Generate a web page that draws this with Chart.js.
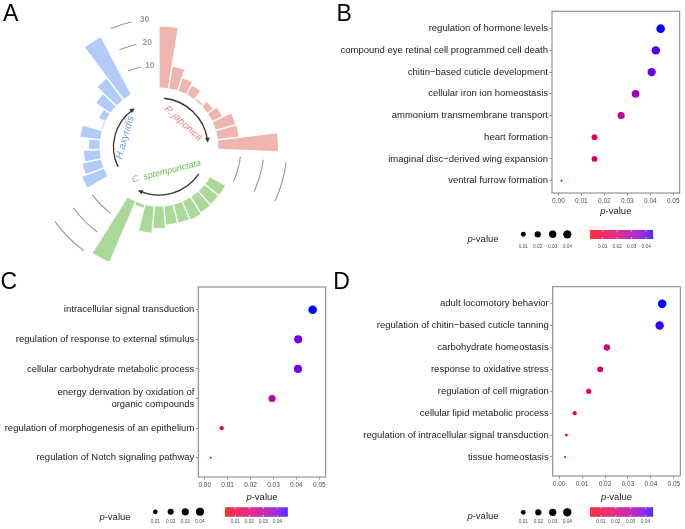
<!DOCTYPE html>
<html><head><meta charset="utf-8">
<script src="https://cdn.jsdelivr.net/npm/chart.js@4"></script>
<style>
html,body{margin:0;padding:0;background:#fff;}
body{width:685px;height:529px;position:relative;overflow:hidden;font-family:'Liberation Sans',Arial,sans-serif;}
canvas{position:absolute;}
.lab{position:absolute;font-size:23px;line-height:23px;color:#000;}
</style></head><body>
<canvas id="cA" width="318" height="294" style="left:0;top:0"></canvas>
<canvas id="cB" width="355" height="260" style="left:330px;top:0"></canvas>
<canvas id="cC" width="330" height="259" style="left:0;top:270px"></canvas>
<canvas id="cD" width="355" height="259" style="left:330px;top:270px"></canvas>
<div class="lab" style="left:3px;top:2px">A</div>
<div class="lab" style="left:336.6px;top:2px">B</div>
<div class="lab" style="left:0.5px;top:270.3px">C</div>
<div class="lab" style="left:333.2px;top:269.7px">D</div>
<script>
const FAM = "'Liberation Sans', Arial, Helvetica, sans-serif";
Chart.defaults.font.family = FAM;

// ---------------- data ----------------
const groupNames = ['P. japonica', 'C. sptempunctata', 'H.axyridis'];
const countsPjaponica = [27, 10, 6.2, 4.8, 1.2, 3.2, 5, 9.2, 9.5, 26.3];
const countsCseptem   = [8, 8, 8.3, 9, 8.6, 8.4, 9.8, 12, 1.8, 29];
const countsHaxyridis = [10.4, 8.6, 7.3, 5.1, 9, 0.8, 3.5, 8, 12, 28.6];
const emptyBarsPerGap = 3;
const radialGrid = [10, 20, 30];

const termsB = ['regulation of hormone levels','compound eye retinal cell programmed cell death','chitin\u2212based cuticle development','cellular iron ion homeostasis','ammonium transmembrane transport','heart formation','imaginal disc\u2212derived wing expansion','ventral furrow formation'];
const pvalB  = [0.0445, 0.0424, 0.0406, 0.0336, 0.0273, 0.0157, 0.0157, 0.0013];
const termsC = ['intracellular signal transduction','regulation of response to external stimulus','cellular carbohydrate metabolic process',['energy derivation by oxidation of','organic compounds'],'regulation of morphogenesis of an epithelium','regulation of Notch signaling pathway'];
const pvalC  = [0.0471, 0.0408, 0.0407, 0.0294, 0.0074, 0.0026];
const termsD = ['adult locomotory behavior','regulation of chitin\u2212based cuticle tanning','carbohydrate homeostasis','response to oxidative stress','regulation of cell migration','cellular lipid metabolic process','regulation of intracellular signal transduction','tissue homeostasis'];
const pvalD  = [0.0449, 0.0438, 0.0208, 0.0179, 0.0129, 0.0068, 0.0032, 0.0026];
const xTickValues  = [0, 0.01, 0.02, 0.03, 0.04, 0.05];
const legendValues = [0.01, 0.02, 0.03, 0.04];

// ---------------- colour helpers (Lab interpolation red -> blue) ----------------
function s2l(c){c/=255;return c<=0.04045?c/12.92:Math.pow((c+0.055)/1.055,2.4);}
function l2s(c){c=c<=0.0031308?12.92*c:1.055*Math.pow(c,1/2.4)-0.055;return Math.round(Math.max(0,Math.min(1,c))*255);}
function rgb2lab(rgb){const r=s2l(rgb[0]),g=s2l(rgb[1]),b=s2l(rgb[2]);
  const x=(r*0.4124+g*0.3576+b*0.1805)/0.95047,y=r*0.2126+g*0.7152+b*0.0722,z=(r*0.0193+g*0.1192+b*0.9505)/1.08883;
  const f=t=>t>0.008856?Math.cbrt(t):7.787*t+16/116;const fx=f(x),fy=f(y),fz=f(z);
  return [116*fy-16,500*(fx-fy),200*(fy-fz)];}
function lab2rgb(L,a,b){const fy=(L+16)/116,fx=fy+a/500,fz=fy-b/200;
  const fi=t=>t*t*t>0.008856?t*t*t:(t-16/116)/7.787;
  const x=fi(fx)*0.95047,y=fi(fy),z=fi(fz)*1.08883;
  return [l2s(x*3.2406-y*1.5372-z*0.4986),l2s(-x*0.9689+y*1.8758+z*0.0415),l2s(x*0.0557-y*0.2040+z*1.0570)];}
const LAB_LO=rgb2lab([255,0,0]), LAB_HI=rgb2lab([0,0,255]);
function mixColor(t){t=Math.max(0,Math.min(1,t));const c=lab2rgb(LAB_LO[0]+(LAB_HI[0]-LAB_LO[0])*t,LAB_LO[1]+(LAB_HI[1]-LAB_LO[1])*t,LAB_LO[2]+(LAB_HI[2]-LAB_LO[2])*t);return `rgb(${c[0]},${c[1]},${c[2]})`;}

// ---------------- Panel A : circular bar plot ----------------
const groupColors = ['#EFB6AF', '#ABDA98', '#B2CBF9'];
const slotValues = [], slotColors = [];
[countsPjaponica, countsCseptem, countsHaxyridis].forEach((g, gi) => {
  g.forEach(v => { slotValues.push(v); slotColors.push(groupColors[gi]); });
  for (let k = 0; k < emptyBarsPerGap; k++) { slotValues.push(null); slotColors.push('rgba(0,0,0,0)'); }
});
const nSlots = slotValues.length;

function arrowArc(ctx, cx, cy, r, d0, d1) {
  const a0 = (d0 - 90) * Math.PI / 180, a1 = (d1 - 90) * Math.PI / 180;
  ctx.strokeStyle = '#333'; ctx.fillStyle = '#333'; ctx.lineWidth = 1.3;
  ctx.beginPath(); ctx.arc(cx, cy, r, a0, a1 - 0.05); ctx.stroke();
  const hx = cx + r * Math.cos(a1), hy = cy + r * Math.sin(a1);
  const tx = -Math.sin(a1), ty = Math.cos(a1);
  const L = 5, W = 2.4, bx = hx - tx * L, by = hy - ty * L, nx = -ty, ny = tx;
  ctx.beginPath(); ctx.moveTo(hx, hy); ctx.lineTo(bx + nx * W, by + ny * W); ctx.lineTo(bx - nx * W, by - ny * W); ctx.closePath(); ctx.fill();
}
function rotText(ctx, cx, cy, txt, r, thetaDeg, rotDeg, color, size) {
  const th = thetaDeg * Math.PI / 180;
  ctx.save();
  ctx.translate(cx + r * Math.sin(th), cy - r * Math.cos(th));
  ctx.rotate(rotDeg * Math.PI / 180);
  ctx.font = `italic ${size}px ${FAM}`; ctx.fillStyle = color; ctx.textAlign = 'center'; ctx.textBaseline = 'middle';
  ctx.fillText(txt, 0, 0);
  ctx.restore();
}
const polarDeco = {
  id: 'polarDeco',
  afterDatasetsDraw(chart) {
    const s = chart.scales.r, ctx = chart.ctx, cx = s.xCenter, cy = s.yCenter;
    const R = v => s.getDistanceFromCenterForValue(v);
    const slotDeg = 360 / nSlots, rad = d => (d - 90) * Math.PI / 180;
    ctx.save();
    ctx.fillStyle = '#fff'; ctx.beginPath(); ctx.arc(cx, cy, R(0) + 0.4, 0, 2 * Math.PI); ctx.fill();
    ctx.strokeStyle = '#9a9a9a'; ctx.lineWidth = 1.1;
    const gapSpans = [[10.5, 12.45], [23.4, 25.4], [36.6, 37.65]];
    radialGrid.forEach(v => gapSpans.forEach(([a, b]) => {
      ctx.beginPath(); ctx.arc(cx, cy, R(v), rad(a * slotDeg), rad(b * slotDeg)); ctx.stroke();
    }));
    ctx.fillStyle = '#9e9e9e'; ctx.font = `bold 8.5px ${FAM}`; ctx.textAlign = 'center'; ctx.textBaseline = 'middle';
    const la = rad(38.3 * slotDeg);
    radialGrid.forEach(v => ctx.fillText(String(v), cx + R(v) * Math.cos(la), cy + R(v) * Math.sin(la)));
    arrowArc(ctx, cx, cy, 49, 6, 85);
    arrowArc(ctx, cx, cy, 48, 124, 206);
    arrowArc(ctx, cx, cy, 45.5, 244, 328);
    rotText(ctx, cx, cy, groupNames[0], 34, 45.7, 42, '#E8867B', 9.8);
    rotText(ctx, cx, cy, groupNames[1], 25.6, 163, -14, '#62BE50', 9);
    rotText(ctx, cx, cy, groupNames[2], 35.3, 285.6, -74.4, '#76A0F3', 10.2);
    ctx.restore();
  }
};
new Chart(document.getElementById('cA'), {
  type: 'polarArea',
  data: { labels: slotValues.map((_, i) => String(i)),
    datasets: [{ data: slotValues, backgroundColor: slotColors, borderColor: '#ffffff', borderWidth: 1.3, angle: 360 / nSlots }] },
  options: {
    responsive: false, animation: false, events: [],
    plugins: { legend: { display: false }, tooltip: { enabled: false } },
    scales: { r: { min: -25.65, max: 38.26, startAngle: 0,
      ticks: { display: false }, grid: { display: false }, angleLines: { display: false }, pointLabels: { display: false } } }
  },
  plugins: [polarDeco]
});

// ---------------- Panels B, C, D : bubble plots ----------------
function drawPTitle(ctx, cx, cy, size, color) {
  ctx.save(); ctx.fillStyle = color; ctx.textBaseline = 'middle'; ctx.textAlign = 'left';
  ctx.font = `italic ${size}px ${FAM}`; const w1 = ctx.measureText('p').width;
  ctx.font = `${size}px ${FAM}`; const w2 = ctx.measureText('-value').width;
  const x0 = cx - (w1 + w2) / 2;
  ctx.font = `italic ${size}px ${FAM}`; ctx.fillText('p', x0, cy);
  ctx.font = `${size}px ${FAM}`; ctx.fillText('-value', x0 + w1, cy);
  ctx.restore();
}
function makeBubble(id, terms, pv, cfg) {
  const pmin = Math.min(...pv), pmax = Math.max(...pv);
  const tOf = p => (p - pmin) / (pmax - pmin);
  const rOf = p => 1 + 3.3 * Math.sqrt(Math.max(0, tOf(p)));
  const deco = {
    id: 'deco' + id,
    afterDraw(chart) {
      const ctx = chart.ctx, a = chart.chartArea, L = cfg.legend;
      ctx.save();
      ctx.strokeStyle = '#7f7f7f'; ctx.lineWidth = 1;
      ctx.strokeRect(a.left, a.top, a.right - a.left, a.bottom - a.top);
      drawPTitle(ctx, (a.left + a.right) / 2, cfg.titleY, 9.5, '#222');
      drawPTitle(ctx, L.titleX, L.titleY, 9.5, '#222');
      ctx.fillStyle = '#000';
      legendValues.forEach((v, i) => { ctx.beginPath(); ctx.arc(L.cx[i], L.cy, rOf(v), 0, 2 * Math.PI); ctx.fill(); });
      ctx.fillStyle = '#4d4d4d'; ctx.font = `4.8px ${FAM}`; ctx.textAlign = 'center'; ctx.textBaseline = 'middle';
      legendValues.forEach((v, i) => ctx.fillText(v.toFixed(2), L.cx[i], L.labY));
      const [x0, x1] = L.barX, [y0, y1] = L.barY;
      for (let x = x0; x < x1; x += 0.5) { ctx.fillStyle = mixColor((x - x0) / (x1 - x0)); ctx.fillRect(x, y0, 0.6, y1 - y0); }
      ctx.strokeStyle = '#fff'; ctx.lineWidth = 0.6;
      legendValues.forEach(v => {
        const x = x0 + (v - pmin) / (pmax - pmin) * (x1 - x0);
        ctx.beginPath(); ctx.moveTo(x, y0); ctx.lineTo(x, y0 + 1.8); ctx.moveTo(x, y1); ctx.lineTo(x, y1 - 1.8); ctx.stroke();
        ctx.fillStyle = '#4d4d4d'; ctx.fillText(v.toFixed(2), x, L.labY);
      });
      ctx.restore();
    }
  };
  new Chart(document.getElementById(id), {
    type: 'bubble',
    data: { datasets: [{ data: pv.map((p, i) => ({ x: p, y: i, r: rOf(p) })),
      backgroundColor: c => mixColor(tOf(c.raw.x)), borderWidth: 0, hoverRadius: 0 }] },
    options: {
      responsive: false, animation: false, events: [],
      layout: { padding: { left: 0, top: cfg.pad[0], right: cfg.pad[1], bottom: cfg.pad[2] } },
      plugins: { legend: { display: false }, tooltip: { enabled: false } },
      scales: {
        x: { type: 'linear', min: -0.0028, max: 0.0528,
          afterBuildTicks: s => { s.ticks = xTickValues.map(v => ({ value: v })); },
          afterFit: s => { s.height = 20; },
          ticks: { callback: v => Number(v).toFixed(2), font: { size: 6.5 }, color: '#4d4d4d', padding: 2, maxRotation: 0, autoSkip: false },
          grid: { drawOnChartArea: false, tickLength: 2.5, color: '#666', lineWidth: 0.7 }, border: { display: false } },
        y: { type: 'linear', reverse: true, min: cfg.yRange[0], max: cfg.yRange[1],
          afterBuildTicks: s => { s.ticks = terms.map((_, i) => ({ value: i })); },
          afterFit: s => { s.width = cfg.yw; },
          ticks: { callback: v => terms[v], font: { size: 9.5 }, color: '#222', padding: 1.5, autoSkip: false },
          grid: { drawOnChartArea: false, tickLength: 2.5, color: '#666', lineWidth: 0.7 }, border: { display: false } }
      }
    },
    plugins: [deco]
  });
}
makeBubble('cB', termsB, pvalB, { pad: [11.3, 5.3, 47], yw: 222, yRange: [-0.80, 7.57], titleY: 211.7,
  legend: { titleX: 153, titleY: 239.3, cx: [193.3, 207.7, 222.7, 237.3], cy: 234.3, labY: 246.3, barX: [260, 322.7], barY: [230, 239] } });
makeBubble('cC', termsC, pvalC, { pad: [17, 4.3, 32], yw: 198.3, yRange: [-0.767, 5.65], titleY: 227.7,
  legend: { titleX: 115, titleY: 247, cx: [155.3, 170.7, 185.3, 200], cy: 241.8, labY: 251.7, barX: [225, 287.3], barY: [237.3, 246.7] } });
makeBubble('cD', termsD, pvalD, { pad: [16.7, 4.7, 33], yw: 222.7, yRange: [-0.776, 7.87], titleY: 227.7,
  legend: { titleX: 153, titleY: 246.7, cx: [193.3, 208.3, 222.7, 237.3], cy: 242.3, labY: 251.7, barX: [260, 322.7], barY: [237.3, 246.7] } });
</script>
</body></html>
